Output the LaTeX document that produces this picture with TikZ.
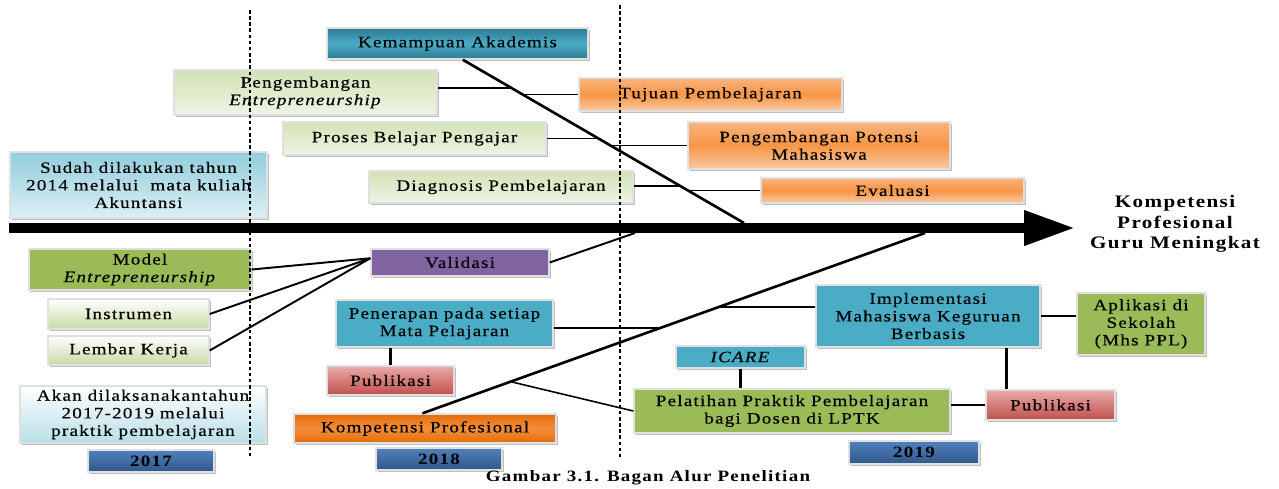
\documentclass[tikz,border=0pt]{standalone}
\usepackage{fontspec}
\setmainfont{Liberation Serif}[FakeStretch=1.2,LetterSpace=8,
  UprightFeatures={FakeBold=0.35},ItalicFeatures={FakeBold=0.35}]
\usetikzlibrary{arrows.meta,shadows,calc}

\definecolor{tealdk}{HTML}{2B7A91}
\definecolor{tealmd}{HTML}{4BACC6}
\definecolor{olive}{HTML}{9BBB59}
\definecolor{olivelt}{HTML}{D3E2B6}
\definecolor{olivexl}{HTML}{EEF4E4}
\definecolor{orng}{HTML}{F79646}
\definecolor{orngtop}{HTML}{FAB37C}
\definecolor{orngdk}{HTML}{E46C0A}
\definecolor{skylt}{HTML}{DDEFF4}
\definecolor{skymd}{HTML}{92CDDC}
\definecolor{purp}{HTML}{8064A2}
\definecolor{redmd}{HTML}{C0504D}
\definecolor{redlt}{HTML}{E8AAA8}
\definecolor{navy}{HTML}{30578A}
\definecolor{navylt}{HTML}{4F81BD}

\begin{document}
\begin{tikzpicture}[x=0.02cm, y=-0.02cm, font=\fontsize{9}{10}\selectfont,
  box/.style={draw=black!12, line width=0.8pt, align=center, inner sep=1pt,
    drop shadow={shadow xshift=1.4pt, shadow yshift=-1.4pt, opacity=0.5}},
  tealbox/.style={box, top color=tealdk, bottom color=tealdk, middle color=tealmd},
  pale/.style={box, top color=olivelt, bottom color=olivexl},
  orangebox/.style={box, top color=orngtop, bottom color=orngtop!70!white, middle color=orng},
  skybox/.style={box, top color=skymd, bottom color=skylt},
  mist/.style={box, top color=white, bottom color=skymd!65!white},
  sprout/.style={box, top color=white, bottom color=olive!55!white},
  oliveb/.style={box, fill=olive},
  cyanb/.style={box, fill=tealmd},
  purpb/.style={box, fill=purp},
  pubbox/.style={box, top color=redlt, bottom color=redmd},
  embers/.style={box, top color=orngdk, bottom color=orngdk, middle color=orng!80!orngdk},
  yearbox/.style={box, top color=navylt, bottom color=navy, font=\bfseries\fontsize{9}{10}\selectfont},
  spine/.style={line width=1.5pt},
  bone/.style={line width=0.9pt},
  link/.style={line width=1.1pt},
  stem/.style={line width=1.6pt},
  divider/.style={dash pattern=on 2pt off 1.5pt, line width=0.6pt}]

\useasboundingbox (0,0) rectangle (1279,488);

% -------- upper half -----------
\node[tealbox, minimum width=5.22cm, minimum height=0.62cm] (ka) at (457.5,43.5) {Kemampuan Akademis};
\node[pale, minimum width=5.26cm, minimum height=0.9cm]  (pe) at (305.5,92.5) {Pengembangan\\\textit{Entrepreneurship}};
\node[orangebox, minimum width=5.26cm, minimum height=0.66cm] (tp) at (710.5,94.5) {Tujuan Pembelajaran};
\node[pale, minimum width=5.26cm, minimum height=0.66cm] (pb) at (414.5,138.5) {Proses Belajar Pengajar};
\node[orangebox, minimum width=5.24cm, minimum height=0.94cm] (pp) at (819,145.5) {Pengembangan Potensi\\Mahasiswa};
\node[skybox, minimum width=5.14cm, minimum height=1.32cm] (sd) at (138.5,185) {Sudah dilakukan tahun\\2014 melalui \ mata kuliah\\Akuntansi};
\node[pale, minimum width=5.28cm, minimum height=0.64cm] (dp) at (501,187) {Diagnosis Pembelajaran};
\node[orangebox, minimum width=5.26cm, minimum height=0.5cm] (ev) at (892.5,190.5) {Evaluasi};

\node[font=\bfseries\fontsize{10}{11.5}\selectfont, align=center] (kk) at (1175,224) {Kompetensi\\Profesional\\Guru Meningkat};

% -------- lower half -----------
\node[oliveb, minimum width=4.44cm, minimum height=0.82cm] (me) at (140,269.5) {Model\\\textit{Entrepreneurship}};
\node[sprout, minimum width=3.22cm, minimum height=0.6cm] (in) at (128.5,314) {Instrumen};
\node[sprout, minimum width=3.22cm, minimum height=0.58cm] (lk) at (128.5,350.5) {Lembar Kerja};
\node[purpb, minimum width=3.56cm, minimum height=0.54cm] (va) at (460,262.5) {Validasi};
\node[cyanb, minimum width=4.34cm, minimum height=0.94cm] (pn) at (444.5,323.5) {Penerapan pada setiap\\Mata Pelajaran};
\node[pubbox, minimum width=2.54cm, minimum height=0.58cm] (pua) at (390.5,380.5) {Publikasi};
\node[mist, minimum width=4.92cm, minimum height=1.14cm] (ak) at (143,414.5) {Akan dilaksanakantahun\\2017-2019 melalui\\praktik pembelajaran};
\node[embers, minimum width=5.24cm, minimum height=0.58cm] (kp) at (425,428.5) {Kompetensi Profesional};
\node[cyanb, minimum width=4.48cm, minimum height=1.24cm] (im) at (928,316) {Implementasi\\Mahasiswa Keguruan\\Berbasis};
\node[oliveb, minimum width=2.56cm, minimum height=1.24cm] (ap) at (1141,324) {Aplikasi di\\Sekolah\\(Mhs PPL)};
\node[cyanb, minimum width=2.58cm, minimum height=0.44cm] (ic) at (740.5,357) {\textit{ICARE}};
\node[oliveb, minimum width=6.32cm, minimum height=0.88cm] (pl) at (792,411) {Pelatihan Praktik Pembelajaran\\bagi Dosen di LPTK};
\node[pubbox, minimum width=2.58cm, minimum height=0.6cm] (pub) at (1050.5,405) {Publikasi};

% -------- years -----------
\node[yearbox, minimum width=2.52cm, minimum height=0.44cm] (ya) at (151,461) {2017};
\node[yearbox, minimum width=2.52cm, minimum height=0.44cm] (yb) at (439,459) {2018};
\node[yearbox, minimum width=2.6cm, minimum height=0.46cm] (yc) at (914,452.5) {2019};

\node[font=\bfseries\fontsize{9}{10}\selectfont] (cap) at (648,478) {Gambar 3.1. Bagan Alur Penelitian};

% -------- spine and bones -----------
\coordinate (tail) at (9,228);
\coordinate (head) at (1075,228);
\draw[line width=0.2cm, -{Triangle[length=1.02cm,width=0.66cm]}] (tail) -- (head);

\coordinate (ut) at ($(ka.south west)!0.52!(ka.south east)$);
\coordinate (ub) at (744,223);
\draw[spine] (ut) -- (ub);
\coordinate (u1) at (513,88);
\coordinate (u2) at (524,94.5);
\coordinate (u3) at (599,138.5);
\coordinate (u4) at (611,145.5);
\coordinate (u5) at (681,186);
\coordinate (u6) at (688,190.5);
\draw[bone] (pe.east |- u1) -- (u1);
\draw[bone] (u2) -- (tp.west);
\draw[bone] (pb.east) -- (u3);
\draw[bone] (u4) -- (pp.west);
\draw[bone] (dp.east |- u5) -- (u5);
\draw[bone] (u6) -- (ev.west);

\coordinate (lt) at ($(kp.north west)!0.49!(kp.north east)$);
\coordinate (lb) at (925,233);
\draw[spine] (lt) -- (lb);
\coordinate (l1) at (512,382);
\coordinate (l2) at (659,328);
\coordinate (l3) at (720,307);
\coordinate (vb) at (635,233);
\draw[bone] (l1) -- (pl.west);
\draw[bone] (pn.east |- l2) -- (l2);
\draw[bone] (l3) -- (l3 -| im.west);
\draw[link] (va.east) -- (vb);

% Validasi inputs
\coordinate (vin) at ($(va.north west)!0.35!(va.south west)$);
\draw[link] (me.east) -- (vin);
\draw[link] (in.east) -- (vin);
\draw[link] (lk.east) -- (vin);

% side links
\coordinate (pt) at ($(pub.north west)!0.16!(pub.north east)$);
\draw[stem] (pua.north) -- (pua.north |- pn.south);
\draw[stem] (ic.south) -- (ic.south |- pl.north);
\draw[stem] (pt) -- (pt |- im.south);
\draw[bone] (im.east) -- (im.east -| ap.west);
\draw[bone] (pub.west -| pl.east) -- (pub.west);

% -------- year dividers -----------
\draw[divider] (250,10) -- (250,457);
\draw[divider] (620,5) -- (620,457);
\end{tikzpicture}
\end{document}
